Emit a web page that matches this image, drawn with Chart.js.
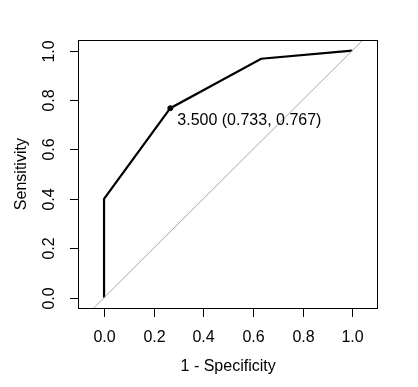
<!DOCTYPE html>
<html>
<head>
<meta charset="utf-8">
<script src="https://cdn.jsdelivr.net/npm/chart.js@4"></script>
<style>
  html, body { margin: 0; padding: 0; background: #fff; }
  #wrap { width: 418px; height: 387px; }
</style>
</head>
<body>
<div id="wrap"><canvas id="roc"></canvas></div>
<script>
// ROC curve data (1 - specificity, sensitivity)
var fpr = [0, 0, 0.267, 0.633, 1.0];
var tpr = [0, 0.4, 0.767, 0.967, 1.0];
var best = { x: 0.267, y: 0.767, label: '3.500 (0.733, 0.767)' };
var xTicks = [0, 0.2, 0.4, 0.6, 0.8, 1.0];
var yTicks = [0, 0.2, 0.4, 0.6, 0.8, 1.0];
var xLimits = [-0.105, 1.10];
var yLimits = [-0.042, 1.043];

var FONT = '16px "Liberation Sans", Arial, sans-serif';

// draws box, ticks, tick labels, axis titles and the threshold text
var rAxes = {
  id: 'rAxes',
  afterDraw: function (chart) {
    var ctx = chart.ctx, a = chart.chartArea;
    var xs = chart.scales.x, ys = chart.scales.y;
    ctx.save();
    ctx.strokeStyle = '#000';
    ctx.lineWidth = 1;
    ctx.strokeRect(Math.round(a.left) + 0.5, Math.round(a.top) + 0.5,
                   Math.round(a.right - a.left), Math.round(a.bottom - a.top));
    ctx.fillStyle = '#000';
    ctx.font = FONT;

    // x axis
    ctx.textAlign = 'center';
    ctx.textBaseline = 'middle';
    xTicks.forEach(function (t) {
      var px = Math.round(xs.getPixelForValue(t)) + 0.5;
      ctx.beginPath();
      ctx.moveTo(px, a.bottom);
      ctx.lineTo(px, a.bottom + 9);
      ctx.stroke();
      ctx.fillText(t.toFixed(1), px, a.bottom + 30);
    });
    ctx.fillText('1 - Specificity', (xs.getPixelForValue(0) + xs.getPixelForValue(1)) / 2, a.bottom + 59);

    // y axis
    yTicks.forEach(function (t) {
      var py = Math.round(ys.getPixelForValue(t)) + 0.5;
      ctx.beginPath();
      ctx.moveTo(a.left, py);
      ctx.lineTo(a.left - 8, py);
      ctx.stroke();
      ctx.save();
      ctx.translate(a.left - 28, py);
      ctx.rotate(-Math.PI / 2);
      ctx.fillText(t.toFixed(1), 0, 0);
      ctx.restore();
    });
    ctx.save();
    ctx.translate(22, (ys.getPixelForValue(0) + ys.getPixelForValue(1)) / 2);
    ctx.rotate(-Math.PI / 2);
    ctx.fillText('Sensitivity', 0, 0);
    ctx.restore();

    // threshold label
    ctx.textAlign = 'left';
    ctx.fillText(best.label, xs.getPixelForValue(best.x) + 7, ys.getPixelForValue(best.y) + 12);
    ctx.restore();
  }
};

var ctx = document.getElementById('roc').getContext('2d');
new Chart(ctx, {
  type: 'scatter',
  data: {
    datasets: [
      {
        label: 'chance',
        data: [{ x: xLimits[0], y: xLimits[0] }, { x: xLimits[1], y: xLimits[1] }],
        showLine: true,
        borderColor: '#a8a8a8',
        borderWidth: 1,
        pointRadius: 0
      },
      {
        label: 'ROC',
        data: fpr.map(function (v, i) { return { x: v, y: tpr[i] }; }),
        showLine: true,
        borderColor: '#000',
        borderWidth: 2.2,
        pointRadius: 0
      },
      {
        label: 'best',
        data: [{ x: best.x, y: best.y }],
        pointRadius: 2.5,
        pointBackgroundColor: '#000',
        pointBorderColor: '#000'
      }
    ]
  },
  options: {
    responsive: true,
    maintainAspectRatio: false,
    animation: false,
    layout: { padding: { left: 78, right: 41, top: 40, bottom: 79 } },
    plugins: { legend: { display: false }, tooltip: { enabled: false } },
    scales: {
      x: { type: 'linear', display: false, min: xLimits[0], max: xLimits[1] },
      y: { type: 'linear', display: false, min: yLimits[0], max: yLimits[1] }
    }
  },
  plugins: [rAxes]
});
</script>
</body>
</html>
